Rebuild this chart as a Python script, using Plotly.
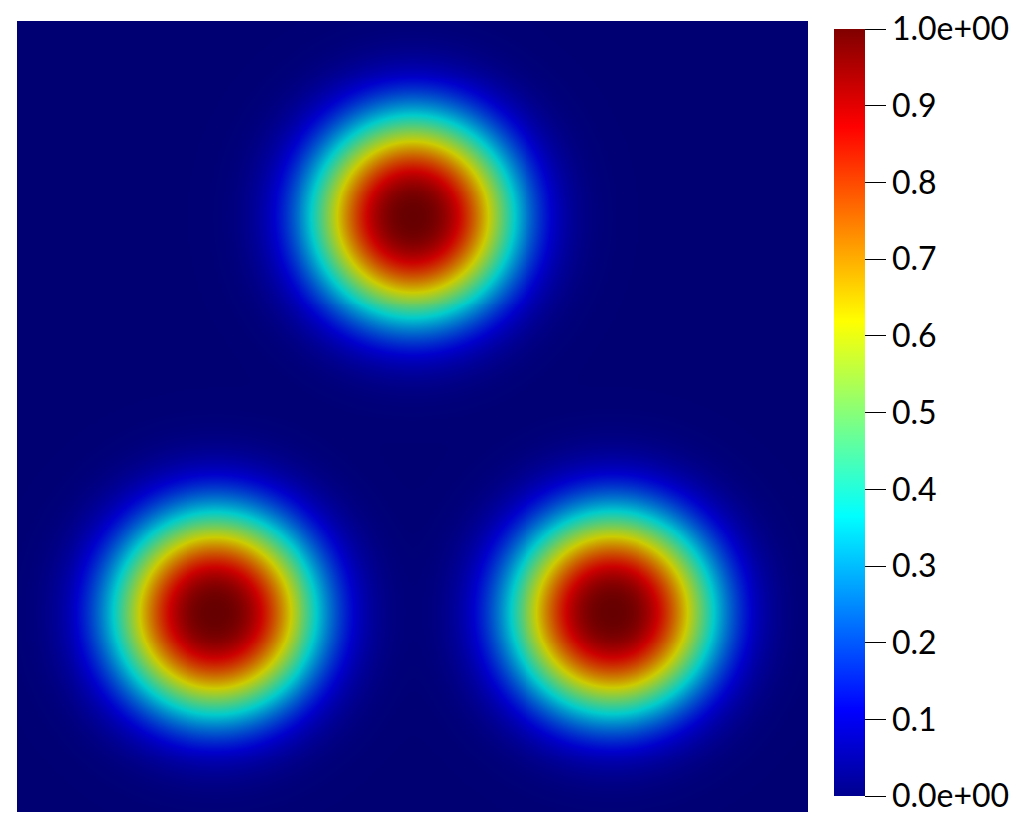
import numpy as np
import plotly.graph_objects as go

# --- data ---
blob_x = [0.50, 0.25, 0.752]      # blob centres (domain units, 0..1)
blob_y = [0.753, 0.252, 0.253]
blob_amp = [1.0, 1.0, 1.0]
blob_radius = [0.128, 0.128, 0.128]  # radius where value falls to 1/e
blob_power = [2.5, 2.5, 2.5]
grid_n = 400

tick_vals = [0.0, 0.1, 0.2, 0.3, 0.4, 0.5, 0.6, 0.7, 0.8, 0.9, 1.0]
tick_text = ["0.0e+00", "0.1", "0.2", "0.3", "0.4", "0.5", "0.6", "0.7", "0.8", "0.9", "1.0e+00"]

# ParaView "Jet" preset
jet_pos = [0.0, 0.111111, 0.365079, 0.492063, 0.619048, 0.873016, 1.0]
jet_rgb = [(0, 0, 0.5625), (0, 0, 1), (0, 1, 1), (0.5, 1, 0.5), (1, 1, 0), (1, 0, 0), (0.5, 0, 0)]
shade = 0.8  # lighting dims the rendered surface

PAGE_OFF = 8  # default body margin of the html page


def scale(factor):
    return [[p, "rgb(%d,%d,%d)" % tuple(round(c * factor * 255) for c in rgb)]
            for p, rgb in zip(jet_pos, jet_rgb)]


xs = np.linspace(0, 1, grid_n)
ys = np.linspace(0, 1, grid_n)
X, Y = np.meshgrid(xs, ys)
Z = np.zeros_like(X)
for cx, cy, a, r, p in zip(blob_x, blob_y, blob_amp, blob_radius, blob_power):
    d = np.hypot(X - cx, Y - cy)
    Z += a * np.exp(-(d / r) ** p)
Z = np.clip(Z, 0, 1).round(4)

fig = go.Figure()
fig.add_trace(go.Heatmap(
    x=xs, y=ys, z=Z, zmin=0, zmax=1, zsmooth="best",
    colorscale=scale(shade), showscale=False, hoverinfo="skip",
))
fig.add_trace(go.Scatter(
    x=[0.5], y=[0.5], mode="markers", hoverinfo="skip",
    marker=dict(size=0.1, opacity=0, color=[0.5], cmin=0, cmax=1,
                colorscale=scale(1.0), showscale=True,
                colorbar=dict(
                    xref="container", x=(834 - PAGE_OFF) / 1023, xanchor="left",
                    yref="container", y=1 - (30 - PAGE_OFF) / 824, yanchor="top",
                    len=767, lenmode="pixels", thickness=31, thicknessmode="pixels",
                    xpad=0, ypad=0, outlinewidth=0,
                    tickmode="array", tickvals=tick_vals, ticktext=tick_text,
                    ticks="outside", ticklen=21, tickwidth=1, tickcolor="black",
                    ticklabeloverflow="allow",
                    tickfont=dict(family="Lato", size=32, color="black"),
                )),
    showlegend=False,
))
fig.update_layout(
    width=1023, height=824,
    margin=dict(l=17 - PAGE_OFF, r=215 + PAGE_OFF, t=21 - PAGE_OFF, b=12 + PAGE_OFF),
    paper_bgcolor="white", plot_bgcolor="white",
    xaxis=dict(range=[0, 1], visible=False),
    yaxis=dict(range=[0, 1], visible=False),
    showlegend=False,
)
fig.write_html("out.html")
